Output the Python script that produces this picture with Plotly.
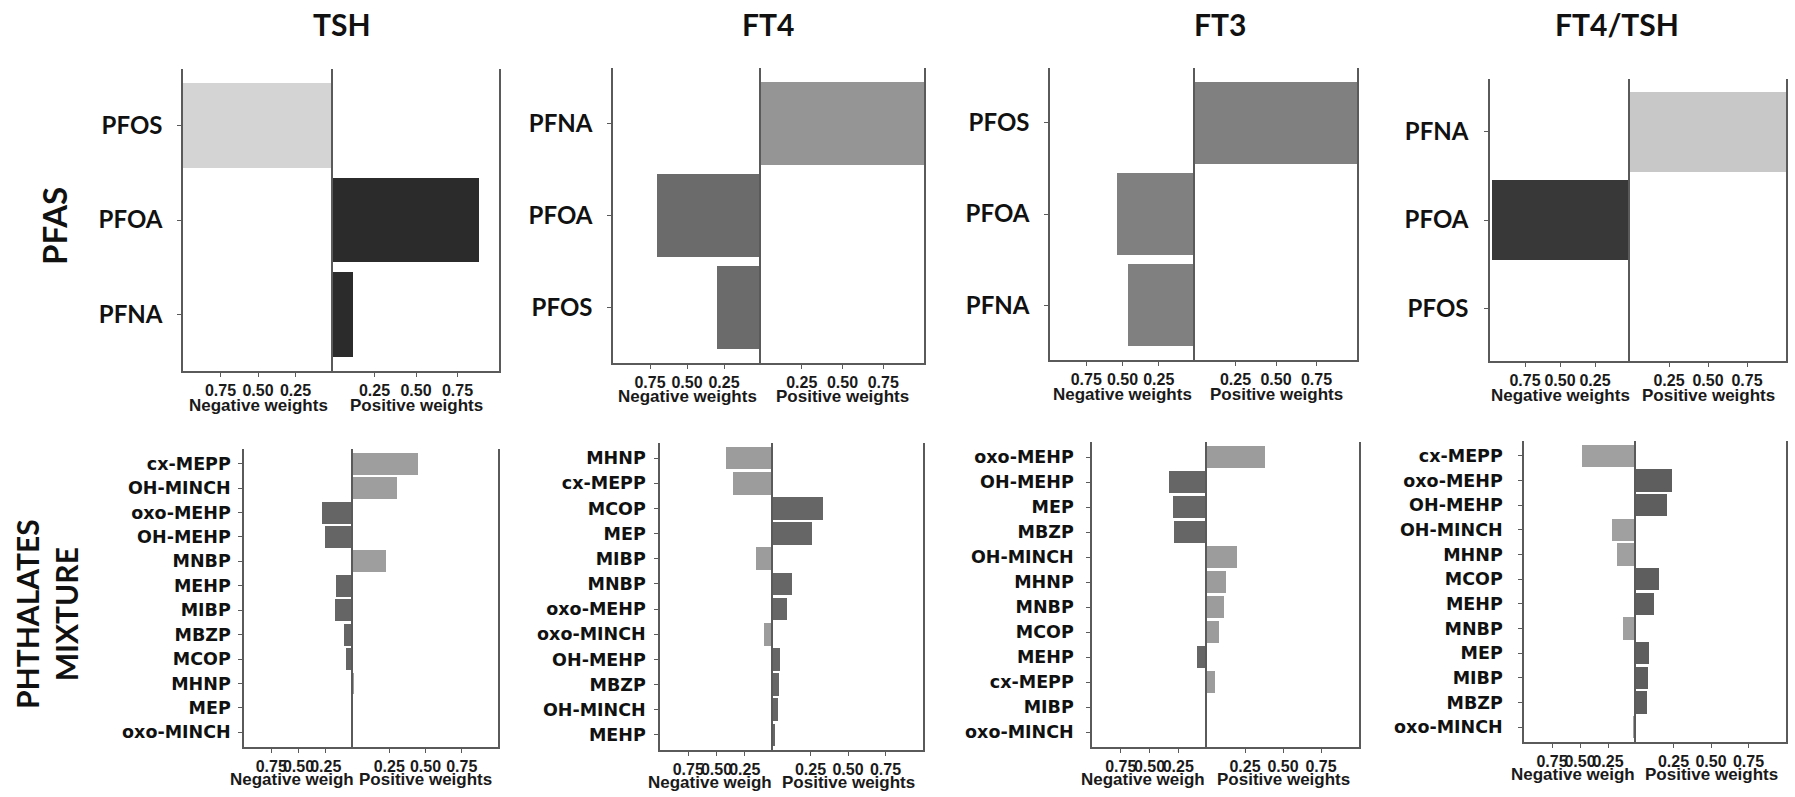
import plotly.graph_objects as go

W, H = 1795, 797

# ---------------- data (signed weights: negative -> negative weights panel) ----------------
tsh_pfas_names = ["PFOS", "PFOA", "PFNA"]
tsh_pfas_w = [-1.00, 0.88, 0.12]

ft4_pfas_names = ["PFNA", "PFOA", "PFOS"]
ft4_pfas_w = [1.00, -0.70, -0.30]

ft3_pfas_names = ["PFOS", "PFOA", "PFNA"]
ft3_pfas_w = [1.00, -0.54, -0.46]

ratio_pfas_names = ["PFNA", "PFOA", "PFOS"]
ratio_pfas_w = [1.00, -0.985, -0.015]

tsh_phth_names = ["cx-MEPP", "OH-MINCH", "oxo-MEHP", "OH-MEHP", "MNBP", "MEHP",
                  "MIBP", "MBZP", "MCOP", "MHNP", "MEP", "oxo-MINCH"]
tsh_phth_w = [0.45, 0.30, -0.28, -0.26, 0.23, -0.16,
              -0.165, -0.08, -0.06, 0.005, -0.012, -0.004]

ft4_phth_names = ["MHNP", "cx-MEPP", "MCOP", "MEP", "MIBP", "MNBP",
                  "oxo-MEHP", "oxo-MINCH", "OH-MEHP", "MBZP", "OH-MINCH", "MEHP"]
ft4_phth_w = [-0.42, -0.35, 0.335, 0.26, -0.15, 0.127,
              0.093, -0.08, 0.047, 0.04, 0.035, 0.015]

ft3_phth_names = ["oxo-MEHP", "OH-MEHP", "MEP", "MBZP", "OH-MINCH", "MHNP",
                  "MNBP", "MCOP", "MEHP", "cx-MEPP", "MIBP", "oxo-MINCH"]
ft3_phth_w = [0.38, -0.33, -0.30, -0.29, 0.20, 0.125,
              0.11, 0.08, -0.087, 0.053, -0.015, -0.002]

ratio_phth_names = ["cx-MEPP", "oxo-MEHP", "OH-MEHP", "OH-MINCH", "MHNP", "MCOP",
                    "MEHP", "MNBP", "MEP", "MIBP", "MBZP", "oxo-MINCH"]
ratio_phth_w = [-0.48, 0.24, 0.207, -0.21, -0.17, 0.153,
                0.12, -0.12, 0.087, 0.08, 0.073, -0.03]

col_titles = ["TSH", "FT4", "FT3", "FT4/TSH"]
tick_vals = [0.25, 0.50, 0.75]
tick_text = ["0.25", "0.50", "0.75"]

# ---------------- layout / styling ----------------
# (left, mid, right, top, bottom) in pixels, negative colour, positive colour, label standoff
panels = [
    dict(n=tsh_pfas_names, w=tsh_pfas_w, g=(183, 333, 499, 69, 371), cn="#d4d4d4", cp="#2b2b2b", top=True, so=10),
    dict(n=ft4_pfas_names, w=ft4_pfas_w, g=(613, 761, 924, 68, 363), cn="#6b6b6b", cp="#959595", top=True, so=10),
    dict(n=ft3_pfas_names, w=ft3_pfas_w, g=(1050, 1195, 1357, 68, 360), cn="#808080", cp="#808080", top=True, so=10),
    dict(n=ratio_pfas_names, w=ratio_pfas_w, g=(1490, 1630, 1786, 79, 361), cn="#383838", cp="#c8c8c8", top=True, so=11),
    dict(n=tsh_phth_names, w=tsh_phth_w, g=(244, 353, 498, 449, 747), cn="#656565", cp="#9e9e9e", top=False, so=4),
    dict(n=ft4_phth_names, w=ft4_phth_w, g=(660, 773, 923, 443, 750), cn="#9c9c9c", cp="#666666", top=False, so=5),
    dict(n=ft3_phth_names, w=ft3_phth_w, g=(1092, 1207, 1359, 442, 747), cn="#666666", cp="#9c9c9c", top=False, so=9),
    dict(n=ratio_phth_names, w=ratio_phth_w, g=(1524, 1636, 1786, 441, 742), cn="#a0a0a0", cp="#5e5e5e", top=False, so=12),
]

LINE = "#5a5a5a"
TXT = "#1a1a1a"
tickfont = dict(family="Liberation Sans, Arial", size=16, color=TXT, weight="bold")
titlefont = dict(family="Liberation Sans, Arial", size=17, color=TXT, weight="bold")

fig = go.Figure()
layout = {}
annotations = []


def ax(name, i):
    return name if i == 1 else f"{name}{i}"


for k, p in enumerate(panels):
    L, M, R, T, B = p["g"]
    names, w = p["n"], p["w"]
    nc = len(names)
    a, b = 2 * k + 1, 2 * k + 2
    neg_y = [nm for nm, v in zip(names, w) if v < 0]
    neg_x = [-v for v in w if v < 0]
    pos_y = [nm for nm, v in zip(names, w) if v > 0]
    pos_x = [v for v in w if v > 0]

    fig.add_trace(go.Bar(x=neg_x, y=neg_y, orientation="h", width=0.9,
                         marker=dict(color=p["cn"], line=dict(width=0)),
                         xaxis=ax("x", a), yaxis=ax("y", a), showlegend=False,
                         hoverinfo="x+y"))
    fig.add_trace(go.Bar(x=pos_x, y=pos_y, orientation="h", width=0.9,
                         marker=dict(color=p["cp"], line=dict(width=0)),
                         xaxis=ax("x", b), yaxis=ax("y", b), showlegend=False,
                         hoverinfo="x+y"))

    ydom = [1 - B / H, 1 - T / H]
    common_x = dict(tickvals=tick_vals, ticktext=tick_text, ticks="outside", ticklen=4,
                    tickcolor=LINE, tickwidth=1, showline=True, linecolor=LINE, linewidth=1.5,
                    showgrid=False, zeroline=False, tickfont=tickfont, tickangle=0,
                    fixedrange=True)
    layout[ax("xaxis", a)] = dict(domain=[L / W, M / W], range=[1.0, 0],
                                  anchor=ax("y", a), **common_x)
    layout[ax("xaxis", b)] = dict(domain=[M / W, R / W], range=[0, 1.0],
                                  anchor=ax("y", b), **common_x)
    yr = [nc - 0.4, -0.6]
    if p["top"]:
        yfont = dict(family="Lato", size=24, color="#111111", weight="bold")
    else:
        yfont = dict(family="DejaVu Sans", size=17.5, color="#111111", weight="bold")
    layout[ax("yaxis", a)] = dict(domain=ydom, anchor=ax("x", a), type="category",
                                  categoryorder="array", categoryarray=names, range=yr,
                                  showline=True, linecolor=LINE, linewidth=1.5,
                                  ticks="outside", ticklen=4, tickcolor=LINE,
                                  ticklabelstandoff=p["so"], tickfont=yfont,
                                  showgrid=False, zeroline=False, fixedrange=True)
    layout[ax("yaxis", b)] = dict(domain=ydom, anchor=ax("x", b), type="category",
                                  categoryorder="array", categoryarray=names, range=yr,
                                  matches=ax("y", a), showticklabels=False, ticks="",
                                  showline=True, mirror=True, linecolor=LINE, linewidth=1.5,
                                  showgrid=False, zeroline=False, fixedrange=True)

    # axis titles
    ty = 1 - (B + (34 if p["top"] else 32)) / H
    if p["top"]:
        annotations.append(dict(text="Negative weights", x=(L + M) / 2 / W, y=ty,
                                xref="paper", yref="paper", xanchor="center", yanchor="middle",
                                showarrow=False, font=titlefont))
    else:
        annotations.append(dict(text="Negative weigh", x=((L + M) / 2 - 71) / W, y=ty,
                                xref="paper", yref="paper", xanchor="left", yanchor="middle",
                                showarrow=False, font=titlefont))
    annotations.append(dict(text="Positive weights", x=(M + R) / 2 / W, y=ty,
                            xref="paper", yref="paper", xanchor="center", yanchor="middle",
                            showarrow=False, font=titlefont))

# column titles
for t, cx in zip(col_titles, [342, 768, 1220, 1617]):
    annotations.append(dict(text=t, x=cx / W, y=1 - 24 / H, xref="paper", yref="paper",
                            xanchor="center", yanchor="middle", showarrow=False,
                            font=dict(family="Lato", size=30, color="#111111", weight="bold")))

# row labels
annotations.append(dict(text="PFAS", x=54 / W, y=1 - 226 / H, xref="paper", yref="paper",
                        xanchor="center", yanchor="middle", showarrow=False, textangle=-90,
                        font=dict(family="Lato", size=33, color="#111111", weight="bold")))
annotations.append(dict(text="PHTHALATES<br>MIXTURE", x=46 / W, y=1 - 614 / H, xref="paper",
                        yref="paper", xanchor="center", yanchor="middle", showarrow=False,
                        textangle=-90, align="center",
                        font=dict(family="Lato", size=30, color="#111111", weight="bold")))

fig.update_layout(width=W, height=H, margin=dict(l=0, r=0, t=0, b=0),
                  paper_bgcolor="white", plot_bgcolor="white", bargap=0,
                  annotations=annotations, **layout)

fig.write_html("out.html", config={"displayModeBar": False},
               post_script="document.body.style.margin='0px';document.body.style.overflow='hidden';")
